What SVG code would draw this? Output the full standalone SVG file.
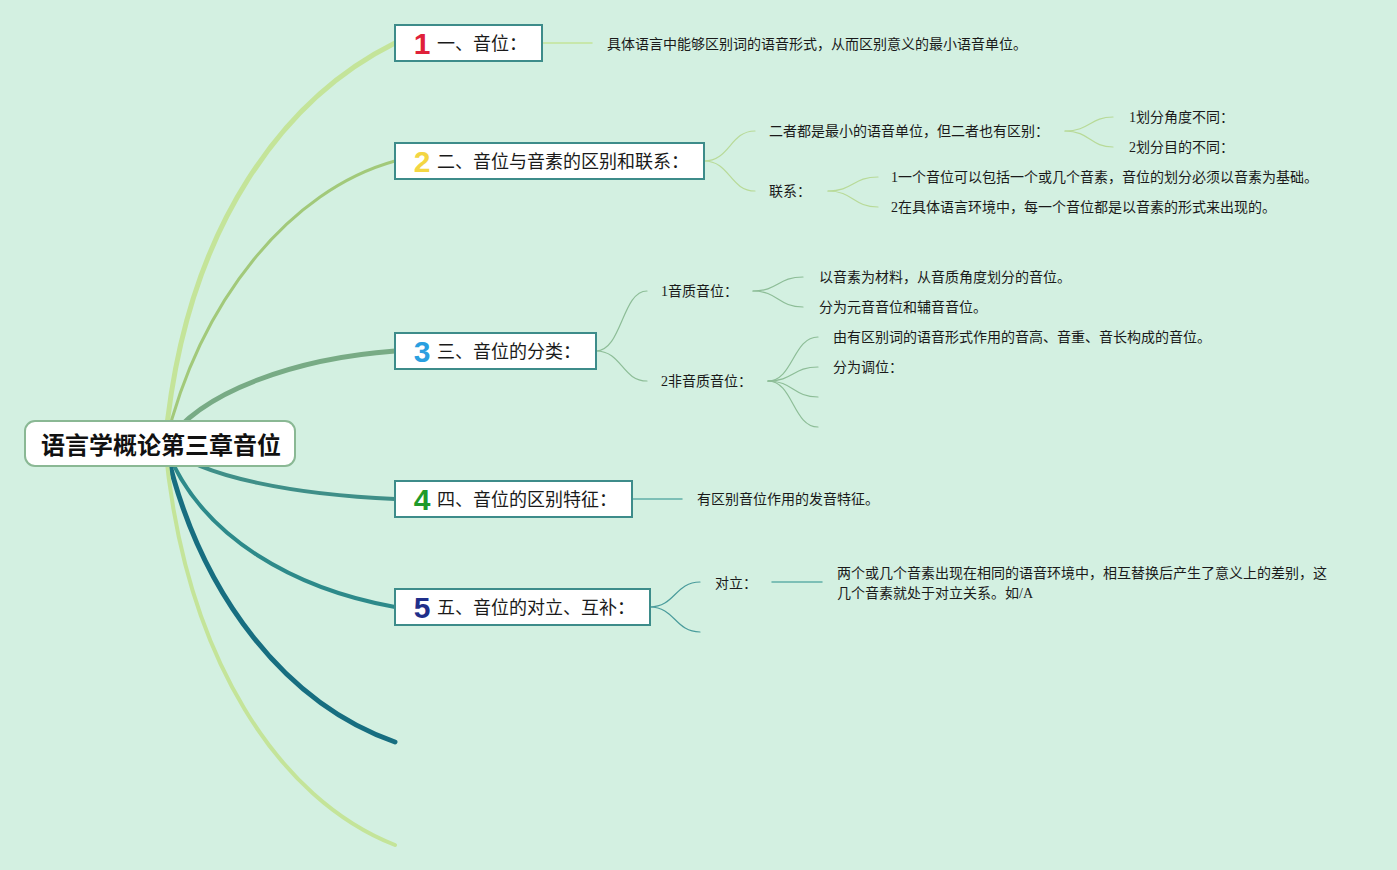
<svg xmlns="http://www.w3.org/2000/svg" width="1397" height="870" viewBox="0 0 1397 870">
<style>
.bg{fill:#d3f0e1}
.box{fill:#ffffff;stroke:#3d8c8a;stroke-width:2}
.root{fill:#ffffff;stroke:#8ab894;stroke-width:2}
.rt{font-family:"Noto Sans CJK SC","Liberation Sans",sans-serif;font-size:24px;font-weight:bold;fill:#111}
.mt{font-family:"Noto Sans CJK SC","Liberation Sans",sans-serif;font-size:18px;fill:#1a1a1a}
.num{font-family:"Liberation Sans","Noto Sans CJK SC",sans-serif;font-size:30px;font-weight:bold;text-anchor:middle}
.t{font-family:"Liberation Serif","Noto Sans CJK SC",serif;font-size:14px;fill:#1a1a1a}
.c{fill:none;stroke-linecap:round}
</style>
<rect class="bg" x="0" y="0" width="1397" height="870"/>
<g id="connectors">
  <path class="c" d="M165,445 C185,220 290,95 395,43" stroke="#c4e499" stroke-width="5"/>
  <path class="c" d="M165,445 C200,300 290,190 395,161" stroke="#a2c97a" stroke-width="3"/>
  <path class="c" d="M165,445 C200,390 300,358 395,351" stroke="#78ab85" stroke-width="5"/>
  <path class="c" d="M165,445 C200,478 300,495 395,499" stroke="#3f8f88" stroke-width="4"/>
  <path class="c" d="M165,445 C200,540 300,590 395,607" stroke="#2d8a8a" stroke-width="4"/>
  <path class="c" d="M165,445 C200,600 290,705 395,742" stroke="#176e80" stroke-width="5"/>
  <path class="c" d="M165,445 C185,660 280,800 395,845" stroke="#c4e499" stroke-width="4"/>
  <!-- branch 1 -->
  <path class="c" d="M542,43 L592,43" stroke="#c4e499" stroke-width="1.5"/>
  <!-- branch 2 -->
  <path class="c" d="M704,161 C730,161 730,131 755,131" stroke="#b8da98" stroke-width="1.2"/>
  <path class="c" d="M704,161 C730,161 730,191 755,191" stroke="#b8da98" stroke-width="1.2"/>
  <path class="c" d="M1065,131 C1090,131 1090,117 1113,117" stroke="#b8da98" stroke-width="1.2"/>
  <path class="c" d="M1065,131 C1090,131 1090,147 1113,147" stroke="#b8da98" stroke-width="1.2"/>
  <path class="c" d="M828,191 C853,191 853,177 878,177" stroke="#b8da98" stroke-width="1.2"/>
  <path class="c" d="M828,191 C853,191 853,207 878,207" stroke="#b8da98" stroke-width="1.2"/>
  <!-- branch 3 -->
  <path class="c" d="M596,351 C622,351 622,291 647,291" stroke="#8dbd97" stroke-width="1.2"/>
  <path class="c" d="M596,351 C622,351 622,381 647,381" stroke="#8dbd97" stroke-width="1.2"/>
  <path class="c" d="M753,291 C778,291 778,277 803,277" stroke="#8dbd97" stroke-width="1.2"/>
  <path class="c" d="M753,291 C778,291 778,307 803,307" stroke="#8dbd97" stroke-width="1.2"/>
  <path class="c" d="M768,381 C793,381 793,337 818,337" stroke="#8dbd97" stroke-width="1.2"/>
  <path class="c" d="M768,381 C793,381 793,367 818,367" stroke="#8dbd97" stroke-width="1.2"/>
  <path class="c" d="M768,381 C793,381 793,397 818,397" stroke="#8dbd97" stroke-width="1.2"/>
  <path class="c" d="M768,381 C793,381 793,427 818,427" stroke="#8dbd97" stroke-width="1.2"/>
  <!-- branch 4 -->
  <path class="c" d="M632,499 L682,499" stroke="#62aea8" stroke-width="1.5"/>
  <!-- branch 5 -->
  <path class="c" d="M650,607 C675,607 675,582 700,582" stroke="#4a9c9c" stroke-width="1.2"/>
  <path class="c" d="M650,607 C675,607 675,632 700,632" stroke="#4a9c9c" stroke-width="1.2"/>
  <path class="c" d="M772,582 L822,582" stroke="#62aea8" stroke-width="1.5"/>
</g>
<g id="root">
  <rect class="root" x="25" y="421" width="270" height="45" rx="10"/>
  <text class="rt" x="41" y="454">语言学概论第三章音位</text>
</g>
<g id="n1">
  <rect class="box" x="395" y="25" width="147" height="36"/>
  <text class="num" x="422" y="54" fill="#e0213a">1</text>
  <text class="mt" x="437" y="49.5">一、音位：</text>
</g>
<g id="n1-1"><text class="t" x="607" y="49">具体语言中能够区别词的语音形式，从而区别意义的最小语音单位。</text></g>
<g id="n2">
  <rect class="box" x="395" y="143" width="309" height="36"/>
  <text class="num" x="422" y="172" fill="#f3d643">2</text>
  <text class="mt" x="437" y="167.5">二、音位与音素的区别和联系：</text>
</g>
<g id="n2-1"><text class="t" x="769" y="136">二者都是最小的语音单位，但二者也有区别：</text></g>
<g id="n2-1-1"><text class="t" x="1129" y="122">1划分角度不同：</text></g>
<g id="n2-1-2"><text class="t" x="1129" y="152">2划分目的不同：</text></g>
<g id="n2-2"><text class="t" x="769" y="196">联系：</text></g>
<g id="n2-2-1"><text class="t" x="891" y="182">1一个音位可以包括一个或几个音素，音位的划分必须以音素为基础。</text></g>
<g id="n2-2-2"><text class="t" x="891" y="212">2在具体语言环境中，每一个音位都是以音素的形式来出现的。</text></g>
<g id="n3">
  <rect class="box" x="395" y="333" width="201" height="36"/>
  <text class="num" x="422" y="362" fill="#2a9fe0">3</text>
  <text class="mt" x="437" y="357.5">三、音位的分类：</text>
</g>
<g id="n3-1"><text class="t" x="661" y="296">1音质音位：</text></g>
<g id="n3-1-1"><text class="t" x="819" y="282">以音素为材料，从音质角度划分的音位。</text></g>
<g id="n3-1-2"><text class="t" x="819" y="312">分为元音音位和辅音音位。</text></g>
<g id="n3-2"><text class="t" x="661" y="386">2非音质音位：</text></g>
<g id="n3-2-1"><text class="t" x="833" y="342">由有区别词的语音形式作用的音高、音重、音长构成的音位。</text></g>
<g id="n3-2-2"><text class="t" x="833" y="372">分为调位：</text></g>
<g id="n4">
  <rect class="box" x="395" y="481" width="237" height="36"/>
  <text class="num" x="422" y="510" fill="#1f9a2a">4</text>
  <text class="mt" x="437" y="505.5">四、音位的区别特征：</text>
</g>
<g id="n4-1"><text class="t" x="697" y="504">有区别音位作用的发音特征。</text></g>
<g id="n5">
  <rect class="box" x="395" y="589" width="255" height="36"/>
  <text class="num" x="422" y="618" fill="#1f2f8a">5</text>
  <text class="mt" x="437" y="613.5">五、音位的对立、互补：</text>
</g>
<g id="n5-1"><text class="t" x="715" y="588">对立：</text></g>
<g id="n5-1-1">
  <text class="t" x="837" y="578">两个或几个音素出现在相同的语音环境中，相互替换后产生了意义上的差别，这</text>
  <text class="t" x="837" y="598">几个音素就处于对立关系。如/A</text>
</g>
</svg>
